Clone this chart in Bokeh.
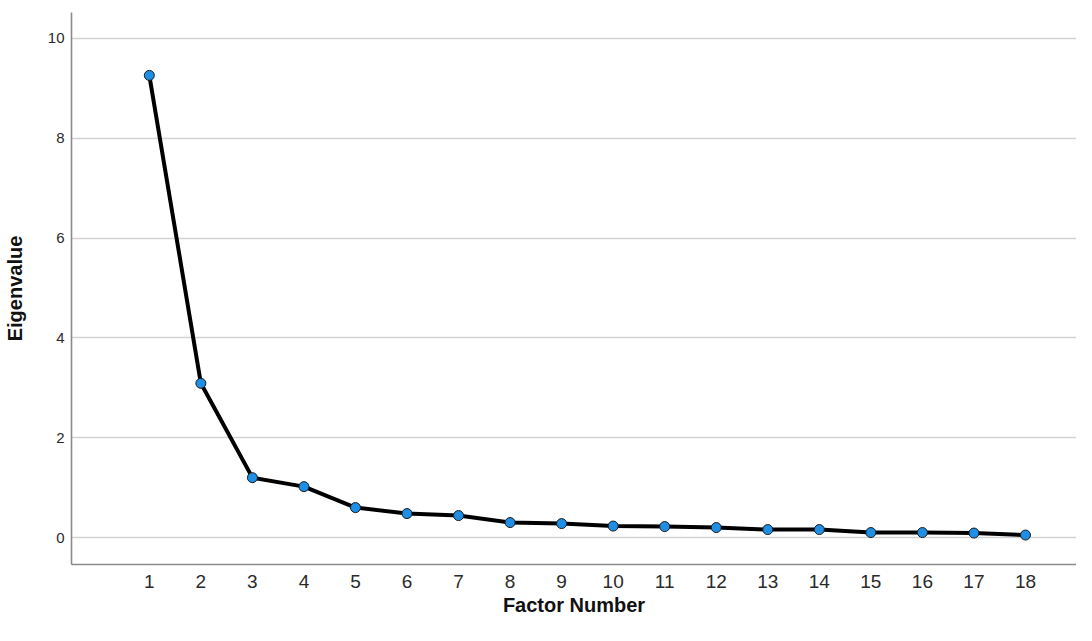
from bokeh.plotting import figure
from bokeh.embed import file_html
from bokeh.resources import INLINE
from bokeh.models import Range1d, FixedTicker

factors = list(range(1, 19))
eigenvalues = [9.26, 3.09, 1.20, 1.02, 0.60, 0.48, 0.44, 0.30, 0.28, 0.23,
               0.22, 0.20, 0.16, 0.16, 0.10, 0.10, 0.09, 0.05]
y_ticks = [0, 2, 4, 6, 8, 10]

FONT = "Liberation Sans"

p = figure(width=1076, height=625, output_backend="svg", toolbar_location=None,
           x_range=Range1d(-0.51, 18.99), y_range=Range1d(-0.54, 10.52),
           min_border_left=70, min_border_right=0, min_border_top=12, min_border_bottom=61)
p.outline_line_color = None
p.background_fill_color = "white"
p.border_fill_color = "white"

p.xgrid.grid_line_color = None
p.ygrid.grid_line_color = "#d2d2d2"
p.ygrid.grid_line_width = 1.6

p.xaxis.ticker = FixedTicker(ticks=factors)
p.yaxis.ticker = FixedTicker(ticks=y_ticks)

for ax in (p.xaxis, p.yaxis):
    ax.axis_line_color = "#8a8a8a"
    ax.axis_line_width = 1.6
    ax.major_tick_line_color = None
    ax.minor_tick_line_color = None
    ax.major_tick_out = 0
    ax.major_tick_in = 0
    ax.major_label_text_font = FONT
    ax.major_label_text_color = "#2a2a2a"
    ax.axis_label_text_font = FONT
    ax.axis_label_text_font_style = "bold"
    ax.axis_label_text_font_size = "20px"
    ax.axis_label_text_color = "#111111"

p.xaxis.major_label_text_font_size = "19px"
p.xaxis.major_label_standoff = 10
p.xaxis.axis_label = "Factor Number"
p.xaxis.axis_label_standoff = 3

p.yaxis.major_label_text_font_size = "15px"
p.yaxis.major_label_standoff = 7
p.yaxis.axis_label = "Eigenvalue"
p.yaxis.axis_label_standoff = 19

p.line(factors, eigenvalues, line_color="black", line_width=4, line_join="round")
p.scatter(factors, eigenvalues, size=10, marker="circle", fill_color="#1e8fe4",
          line_color="#1a1a1a", line_width=1)

open("out.html", "w").write(file_html(p, INLINE))
